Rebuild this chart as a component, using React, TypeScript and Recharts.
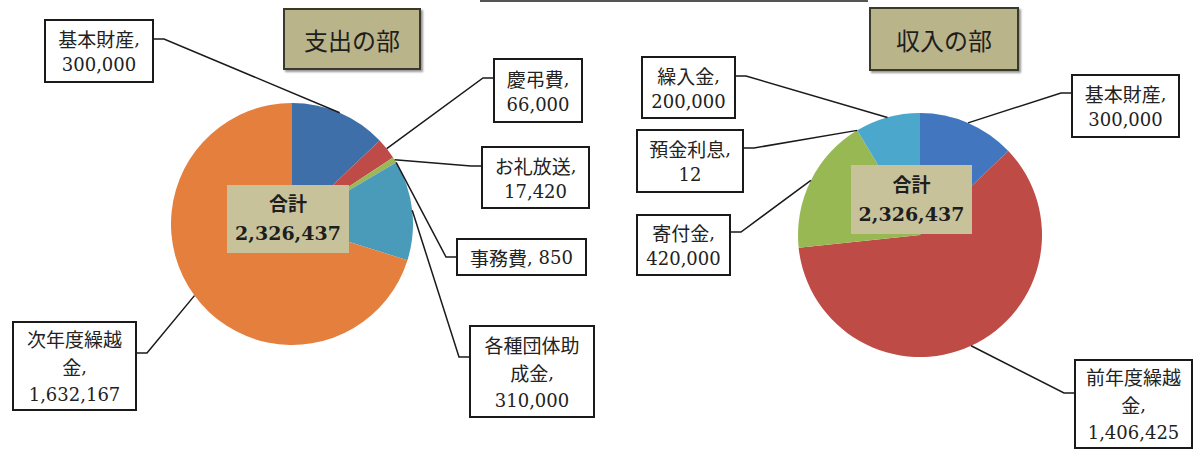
import React from "react";
import { PieChart, Pie, Cell } from "recharts";

// 支出の部
const expenseNames = ["基本財産", "慶弔費", "お礼放送", "事務費", "各種団体助成金", "次年度繰越金"];
const expenseValues = [300000, 66000, 17420, 850, 310000, 1632167];

// 収入の部
const incomeNames = ["基本財産", "前年度繰越金", "寄付金", "預金利息", "繰入金"];
const incomeValues = [300000, 1406425, 420000, 12, 200000];

const TOTAL_LABEL = "合計";

const expenseData = expenseNames.map((name, i) => ({ name, value: expenseValues[i] }));
const incomeData = incomeNames.map((name, i) => ({ name, value: incomeValues[i] }));
const expenseTotal = expenseValues.reduce((a, b) => a + b, 0);
const incomeTotal = incomeValues.reduce((a, b) => a + b, 0);

const EXPENSE_COLORS = ["#3f6fa9", "#be4b48", "#98b954", "#7d60a0", "#4a9ab9", "#e47f3e"];
const INCOME_COLORS = ["#4277bf", "#bf4b47", "#97b853", "#7e62a1", "#4ba8cc"];

type Box = { x: number; y: number; w: number; h: number; side: "left" | "right"; ly: number; inline?: boolean };

const EXPENSE_BOXES: Box[] = [
    { x: 45, y: 20, w: 108, h: 62, side: "right", ly: 39 },
    { x: 494, y: 59, w: 88, h: 63, side: "left", ly: 78 },
    { x: 482, y: 147, w: 107, h: 61, side: "left", ly: 166 },
    { x: 457, y: 239, w: 129, h: 36, side: "left", ly: 257, inline: true },
    { x: 470, y: 326, w: 124, h: 91, side: "left", ly: 357 },
    { x: 13, y: 322, w: 123, h: 88, side: "right", ly: 353 },
];

const INCOME_BOXES: Box[] = [
    { x: 1072, y: 75, w: 107, h: 62, side: "left", ly: 93 },
    { x: 1075, y: 360, w: 117, h: 88, side: "left", ly: 393 },
    { x: 637, y: 215, w: 93, h: 60, side: "right", ly: 232 },
    { x: 637, y: 130, w: 106, h: 62, side: "right", ly: 148 },
    { x: 642, y: 57, w: 93, h: 61, side: "right", ly: 76 },
];

const fmt = (v: number) => v.toLocaleString("en-US");
const RAD = Math.PI / 180;

function labelLines(name: string, value: number, inline?: boolean) {
    if (inline) return [`${name}, ${fmt(value)}`];
    const chunks: string[] = [];
    for (let i = 0; i < name.length; i += 5) chunks.push(name.slice(i, i + 5));
    chunks[chunks.length - 1] += ",";
    return [...chunks, fmt(value)];
}

// latin runs in a Century-like serif, kanji/kana in the CJK font
function runs(t: string) {
    const parts = t.match(/[\x00-\x7f]+|[^\x00-\x7f]+/g) || [];
    return parts.map((p, i) =>
        /^[\x00-\x7f]/.test(p) ? (
            <tspan key={i} fontFamily="'DejaVu Serif', serif" fontSize={18}>{p}</tspan>
        ) : (
            <tspan key={i} fontFamily="'Noto Sans CJK JP', sans-serif" fontSize={19}>{p}</tspan>
        )
    );
}

function renderLabel(props: any, boxes: Box[]) {
    const { cx, cy, midAngle, outerRadius, index, name, value } = props;
    const b = boxes[index];
    if (!b) return null;
    const px = cx + outerRadius * Math.cos(-midAngle * RAD);
    const py = cy + outerRadius * Math.sin(-midAngle * RAD);
    const sx = b.side === "left" ? b.x : b.x + b.w;
    const ex = b.side === "left" ? sx - 11 : sx + 11;
    const lines = labelLines(name, value, b.inline);
    const lh = lines.length > 2 ? 28 : 26;
    const mid = b.y + b.h / 2;
    return (
        <g key={`lbl-${index}`}>
            <polyline
                points={`${px},${py} ${ex},${b.ly} ${sx},${b.ly}`}
                fill="none"
                stroke="#1a1a1a"
                strokeWidth={1.5}
            />
            <rect x={b.x} y={b.y} width={b.w} height={b.h} fill="#fff" stroke="#1a1a1a" strokeWidth={2} />
            {lines.map((t, i) => (
                <text
                    key={i}
                    x={b.x + b.w / 2}
                    y={mid + (i - (lines.length - 1) / 2) * lh}
                    textAnchor="middle"
                    dominantBaseline="central"
                    fill="#222"
                >
                    {runs(t)}
                </text>
            ))}
        </g>
    );
}

const titleStyle: React.CSSProperties = {
    position: "absolute",
    background: "#bab48a",
    border: "2px solid #3a3a2c",
    boxShadow: "2px 2px 2px #999",
    display: "flex",
    alignItems: "center",
    justifyContent: "center",
    fontFamily: "'Noto Sans CJK JP', sans-serif",
    fontSize: 24,
    color: "#1e1e1e",
    boxSizing: "border-box",
};

const totalStyle: React.CSSProperties = {
    position: "absolute",
    background: "#c8c29a",
    display: "flex",
    flexDirection: "column",
    alignItems: "center",
    justifyContent: "center",
    fontFamily: "'DejaVu Serif', 'Noto Sans CJK JP', serif",
    fontWeight: "bold",
    fontSize: 19,
    lineHeight: "29px",
    color: "#1e1e1e",
};

export default function App() {
    return (
        <div style={{ position: "absolute", left: 0, top: 0, width: 1195, height: 450, background: "#fff", overflow: "hidden" }}>
            <div style={{ position: "absolute", left: 480, top: 0, width: 388, height: 2, background: "#555" }} />
            <PieChart width={1195} height={450}>
                <Pie
                    data={expenseData}
                    dataKey="value"
                    nameKey="name"
                    cx={287}
                    cy={219}
                    outerRadius={121}
                    startAngle={90}
                    endAngle={-270}
                    stroke="none"
                    labelLine={false}
                    label={(p: any) => renderLabel(p, EXPENSE_BOXES)}
                    isAnimationActive={false}
                >
                    {expenseData.map((_, i) => (
                        <Cell key={i} fill={EXPENSE_COLORS[i % EXPENSE_COLORS.length]} />
                    ))}
                </Pie>
                <Pie
                    data={incomeData}
                    dataKey="value"
                    nameKey="name"
                    cx={915}
                    cy={230}
                    outerRadius={122}
                    startAngle={90}
                    endAngle={-270}
                    stroke="none"
                    labelLine={false}
                    label={(p: any) => renderLabel(p, INCOME_BOXES)}
                    isAnimationActive={false}
                >
                    {incomeData.map((_, i) => (
                        <Cell key={i} fill={INCOME_COLORS[i % INCOME_COLORS.length]} />
                    ))}
                </Pie>
            </PieChart>
            <div style={{ ...titleStyle, left: 283, top: 8, width: 138, height: 62 }}>支出の部</div>
            <div style={{ ...titleStyle, left: 869, top: 7, width: 150, height: 64 }}>収入の部</div>
            <div style={{ ...totalStyle, left: 227, top: 185, width: 122, height: 68 }}>
                <div>{TOTAL_LABEL}</div>
                <div>{fmt(expenseTotal)}</div>
            </div>
            <div style={{ ...totalStyle, left: 851, top: 165, width: 121, height: 69 }}>
                <div>{TOTAL_LABEL}</div>
                <div>{fmt(incomeTotal)}</div>
            </div>
        </div>
    );
}
